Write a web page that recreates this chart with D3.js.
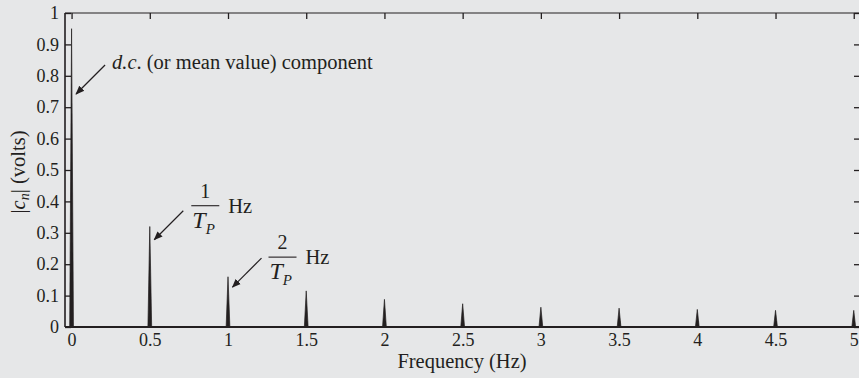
<!DOCTYPE html>
<html>
<head>
<meta charset="utf-8">
<script src="https://cdn.jsdelivr.net/npm/d3@7"></script>
<style>
  html, body { margin: 0; padding: 0; background: #e6e7e8; }
  svg { display: block; }
  text { font-family: "Liberation Serif", "Times New Roman", serif; fill: #231f20; }
</style>
</head>
<body>
<svg id="chart" width="859" height="378"></svg>
<script>
// Harmonic frequencies (Hz) and the magnitude |c_n| (volts) at each one
const frequencies = [0, 0.5, 1, 1.5, 2, 2.5, 3, 3.5, 4, 4.5, 5];
const magnitudes  = [0.95, 0.32, 0.16, 0.115, 0.088, 0.074, 0.063, 0.06, 0.056, 0.053, 0.053];

// Axis ticks
const xTicks = [0, 0.5, 1, 1.5, 2, 2.5, 3, 3.5, 4, 4.5, 5];
const xTickLabels = ["0", "0.5", "1", "1.5", "2", "2.5", "3", "3.5", "4", "4.5", "5"];
const yTicks = [0, 0.1, 0.2, 0.3, 0.4, 0.5, 0.6, 0.7, 0.8, 0.9, 1];
const yTickLabels = ["0", "0.1", "0.2", "0.3", "0.4", "0.5", "0.6", "0.7", "0.8", "0.9", "1"];

const ink = "#231f20";
const svg = d3.select("#chart");
const margin = { left: 65, right: -1, top: 13, bottom: 51 };
const W = 859, H = 378;

const x = d3.scaleLinear().domain([-0.042, 5.04]).range([margin.left, W - margin.right]);
const y = d3.scaleLinear().domain([0, 1]).range([H - margin.bottom, margin.top]);

const x0 = x.range()[0], x1 = x.range()[1];
const y0 = y.range()[0], y1 = y.range()[1];

// Axes (ticks point into the plot box)
const fmtX = d => xTickLabels[xTicks.indexOf(d)];
const fmtY = d => yTickLabels[yTicks.indexOf(d)];

function styleAxis(g) {
  g.select(".domain").remove();
  g.attr("font-family", null);
  g.selectAll("line").attr("stroke", ink).attr("stroke-width", 1.3);
  g.selectAll("text").style("font-size", "18px").attr("fill", ink)
    .style("font-family", '"Liberation Serif", serif');
}

svg.append("g").attr("transform", `translate(0,${y0})`)
  .call(d3.axisBottom(x).tickValues(xTicks).tickFormat(fmtX).tickSize(-6).tickPadding(6))
  .call(styleAxis);
svg.append("g").attr("transform", `translate(0,${y1})`)
  .call(d3.axisTop(x).tickValues(xTicks).tickFormat("").tickSize(-6))
  .call(styleAxis);
svg.append("g").attr("transform", `translate(${x0},0)`)
  .call(d3.axisLeft(y).tickValues(yTicks).tickFormat(fmtY).tickSize(-6).tickPadding(6))
  .call(styleAxis);
svg.append("g").attr("transform", `translate(${x1},0)`)
  .call(d3.axisRight(y).tickValues(yTicks).tickFormat("").tickSize(-6))
  .call(styleAxis);

// Frame
svg.append("line").attr("x1", x0).attr("x2", x1).attr("y1", y1).attr("y2", y1)
  .attr("stroke", ink).attr("stroke-width", 1);
svg.append("line").attr("x1", x0).attr("x2", x0).attr("y1", y1).attr("y2", y0)
  .attr("stroke", ink).attr("stroke-width", 1.6);

// Spectral lines drawn as narrow triangles
const halfBase = 0.012;
svg.append("g").selectAll("path")
  .data(frequencies.map((f, i) => ({ f, v: magnitudes[i] })))
  .join("path")
  .attr("d", d => `M${x(d.f - halfBase)},${y(0)}L${x(d.f)},${y(d.v)}L${x(d.f + halfBase)},${y(0)}Z`)
  .attr("fill", ink)
  .attr("stroke", ink)
  .attr("stroke-width", 0.7)
  .attr("stroke-linejoin", "miter");

// Bottom axis line
svg.append("line").attr("x1", x0).attr("x2", x1).attr("y1", y0).attr("y2", y0)
  .attr("stroke", ink).attr("stroke-width", 2);

// Axis titles
svg.append("text")
  .attr("x", 462).attr("y", 368)
  .attr("text-anchor", "middle")
  .style("font-size", "20.5px")
  .text("Frequency (Hz)");

const yl = svg.append("text")
  .attr("transform", "translate(25,172) rotate(-90)")
  .attr("text-anchor", "middle")
  .style("font-size", "20.5px");
yl.append("tspan").text("|");
yl.append("tspan").style("font-style", "italic").text("c");
yl.append("tspan").style("font-style", "italic").style("font-size", "14px").attr("dy", 4).text("n");
yl.append("tspan").attr("dy", -4).text("| (volts)");

// Arrowhead
svg.append("defs").append("marker")
  .attr("id", "head")
  .attr("viewBox", "0 0 10 10")
  .attr("refX", 9).attr("refY", 5)
  .attr("markerWidth", 9).attr("markerHeight", 9)
  .attr("markerUnits", "userSpaceOnUse")
  .attr("orient", "auto")
  .append("path").attr("d", "M0,1L10,5L0,9Z").attr("fill", ink);

// Annotation arrows point at the spectral lines
const arrowLen = 29;
const notes = [
  { f: 0,   v: 0.742 },
  { f: 0.5, v: 0.278 },
  { f: 1,   v: 0.127 }
];
const tails = notes.map(n => {
  const tx = x(n.f) + 4.5, ty = y(n.v);
  svg.append("line")
    .attr("x1", tx + arrowLen).attr("y1", ty - arrowLen)
    .attr("x2", tx).attr("y2", ty)
    .attr("stroke", ink).attr("stroke-width", 1.2)
    .attr("marker-end", "url(#head)");
  return [tx + arrowLen, ty - arrowLen];
});

// d.c. label
const dc = svg.append("text")
  .attr("x", tails[0][0] + 7).attr("y", tails[0][1] + 4)
  .style("font-size", "20.5px");
dc.append("tspan").style("font-style", "italic").text("d.c");
dc.append("tspan").text(". (or mean value) component");

// Harmonic labels k / T_P Hz
function fracLabel(tail, num, dx, dy) {
  const bx = tail[0] + dx, by = tail[1] + dy, bw = 28;
  const g = svg.append("g");
  g.append("line").attr("x1", bx).attr("x2", bx + bw).attr("y1", by).attr("y2", by)
    .attr("stroke", ink).attr("stroke-width", 1.1);
  g.append("text").attr("x", bx + bw / 2).attr("y", by - 8)
    .attr("text-anchor", "middle").style("font-size", "20px").text(num);
  const t = g.append("text").attr("x", bx + 1).attr("y", by + 22).style("font-size", "24px");
  t.append("tspan").style("font-style", "italic").text("T");
  t.append("tspan").style("font-style", "italic").style("font-size", "15px").attr("dy", 6).text("P");
  g.append("text").attr("x", bx + bw + 9).attr("y", by + 7)
    .style("font-size", "20.5px").text("Hz");
}
fracLabel(tails[1], "1", 8, -5);
fracLabel(tails[2], "2", 7, -1);
</script>
</body>
</html>
